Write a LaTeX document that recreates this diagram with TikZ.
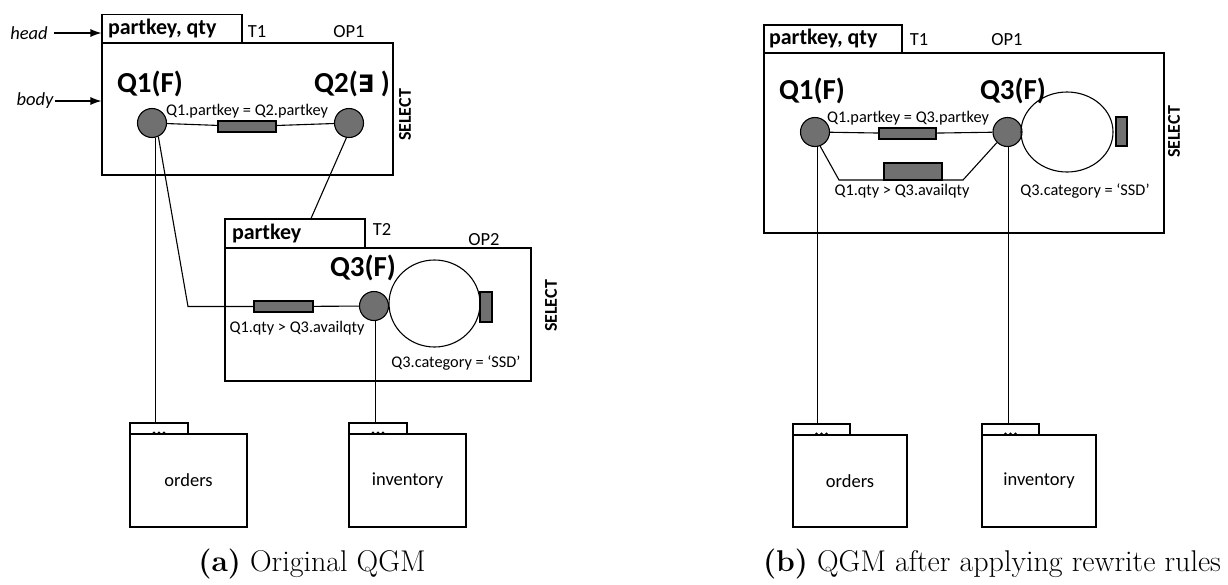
\documentclass[tikz,border=0pt]{standalone}
\usepackage{fontspec}
\newfontfamily\calib{Carlito}
\newfontfamily\dejavu{DejaVu Sans}
\usepackage{tikz}
\usetikzlibrary{positioning}
\usetikzlibrary{shapes.geometric}
\usetikzlibrary{arrows.meta}
\definecolor{qgray}{RGB}{112,112,112}

\begin{document}
\begin{tikzpicture}[x=1pt,y=-1pt,line width=1.1pt,
	qun/.style={circle,draw,fill=qgray,minimum size=29pt,inner sep=0pt},
	pred/.style={rectangle,draw,fill=qgray,inner sep=0pt},
	frame/.style={rectangle,draw,inner sep=0pt},
	tname/.style={font=\calib\bfseries\fontsize{22}{22}\selectfont,inner sep=0pt,anchor=west},
	boxname/.style={font=\calib\fontsize{18.5}{18.5}\selectfont,inner sep=0pt},
	qname/.style={font=\calib\bfseries\fontsize{29}{29}\selectfont,inner sep=0pt},
	cond/.style={font=\calib\fontsize{16.3}{16.3}\selectfont,inner sep=0pt},
	opname/.style={font=\calib\bfseries\fontsize{18}{18}\selectfont,inner sep=0pt,rotate=90},
	capt/.style={font=\fontsize{30}{30}\selectfont,inner sep=0pt,anchor=base},
	feed/.style={-{Latex[length=11pt,width=8pt]}}]
	\useasboundingbox (0,0) rectangle (1228,584);

	% (a) original QGM
	\node[frame,minimum width=140pt,minimum height=29pt] (t1a) at (172,29) {};
	\node[tname] (t1acols) at ([xshift=6pt]t1a.west) {partkey, qty};
	\node[boxname] (t1alabel) at (257,32) {T1};
	\node[boxname] (op1alabel) at (349,32) {OP1};
	\node[frame,minimum width=291pt,minimum height=132pt] (op1a) at (247.5,109) {};
	\node[opname] (sel1a) at (405,115) {SELECT};
	\node[boxname,font=\calib\itshape\fontsize{18.5}{18.5}\selectfont,inner xsep=6pt] (head) at (29,33) {head};
	\node[boxname,font=\calib\itshape\fontsize{18.5}{18.5}\selectfont,inner xsep=1pt] (body) at (35,101) {body};
	\draw[feed] (head) -- (head -| t1a.west);
	\draw[feed] (body) -- (body -| op1a.west);

	\node[qname] (q1aname) at (150,84) {Q1(F)};
	\node[qname] (q2aname) at (352,84) {Q2({\dejavu\fontsize{24}{24}\selectfont ∃} )};
	\node[qun] (q1a) at (152,123) {};
	\node[qun] (q2a) at (349,123) {};
	\node[pred,minimum width=58pt,minimum height=11pt] (p12a) at (247,126.5) {};
	\node[cond] (c12a) at (247,111) {Q1.partkey = Q2.partkey};
	\draw (q1a) -- (p12a) -- (q2a);

	\node[frame,minimum width=140pt,minimum height=29pt] (t2a) at (295,233.5) {};
	\node[tname] (t2acols) at ([xshift=7pt]t2a.west) {partkey};
	\node[boxname] (t2alabel) at (382,229) {T2};
	\node[boxname] (op2alabel) at (484,240) {OP2};
	\node[frame,minimum width=306pt,minimum height=133pt] (op2a) at (378,314.5) {};
	\node[opname] (sel2a) at (551,306) {SELECT};
	\draw (q2a.-100) -- ([xshift=16pt]t2a.north);

	\node[qname] (q3aname) at (363,268) {Q3(F)};
	\node[qun] (q3a) at (374,306) {};
	\node[ellipse,draw,minimum width=91pt,minimum height=87pt,inner sep=0pt] (loopa) at (434.5,303.5) {};
	\node[pred,minimum width=12pt,minimum height=30pt] (p33a) at (486,307) {};
	\node[cond] (c33a) at (456,363) {Q3.category = ‘SSD’};
	\node[pred,minimum width=59pt,minimum height=11pt] (p13a) at (283.5,306.5) {};
	\node[cond] (c13a) at (297,328) {Q1.qty > Q3.availqty};
	\coordinate (benda) at (188,306.5);
	\draw (q1a.-65) -- (benda) -- (p13a) -- (q3a);

	\node[frame,minimum width=58pt,minimum height=11pt] (ordtaba) at (159,428.5) {};
	\node[frame,minimum width=117pt,minimum height=93pt] (orda) at (188.5,480.5) {};
	\node[boxname] (ordlabela) at (orda) {orders};
	\node[frame,minimum width=58pt,minimum height=11pt] (invtaba) at (378,428.5) {};
	\node[frame,minimum width=117pt,minimum height=93pt] (inva) at (407.5,480.5) {};
	\node[boxname] (invlabela) at (inva) {inventory};
	\foreach \t in {ordtaba,invtaba}
		\foreach \d in {-5,0,5}
			\fill ([xshift=\d pt,yshift=1.5pt]\t.south) circle (1.6pt);
	\draw (q1a.-75) -- (q1a.-75 |- ordtaba.north);
	\draw (q3a.-85) -- (q3a.-85 |- invtaba.north);

	\node[capt] (capa) at (312,571) {\textbf{(a)} Original QGM};

	% (b) after rewrite
	\node[frame,minimum width=138pt,minimum height=28pt] (t1b) at (833,39) {};
	\node[tname] (t1bcols) at ([xshift=5pt]t1b.west) {partkey, qty};
	\node[boxname] (t1blabel) at (919,40) {T1};
	\node[boxname] (op1blabel) at (1007,40) {OP1};
	\node[frame,minimum width=400pt,minimum height=180pt] (op1b) at (964,143) {};
	\node[opname] (sel1b) at (1174,132) {SELECT};

	\node[qname] (q1bname) at (812,91) {Q1(F)};
	\node[qname] (q3bname) at (1013,91) {Q3(F)};
	\node[qun] (q1b) at (815,132) {};
	\node[qun] (q3b) at (1007.5,132) {};
	\node[pred,minimum width=57pt,minimum height=11pt] (p13b) at (907.5,133.5) {};
	\node[cond] (c13b) at (908,118) {Q1.partkey = Q3.partkey};
	\draw (q1b) -- (p13b) -- (q3b);
	\coordinate (bendlb) at (839,180);
	\coordinate (bendrb) at (963,180);
	\draw (q1b.-70) -- (bendlb) -- (bendrb) -- (q3b.-135);
	\node[pred,minimum width=58pt,minimum height=17pt] (q13b) at (913,171.5) {};
	\node[cond] (cq13b) at (902,191) {Q1.qty > Q3.availqty};
	\node[ellipse,draw,minimum width=92pt,minimum height=80pt,inner sep=0pt] (loopb) at (1067,132) {};
	\node[pred,minimum width=11pt,minimum height=29pt] (p33b) at (1121.5,131.5) {};
	\node[cond] (c33b) at (1085,191) {Q3.category = ‘SSD’};

	\node[frame,minimum width=57pt,minimum height=11pt] (ordtabb) at (821.5,429.5) {};
	\node[frame,minimum width=114pt,minimum height=92pt] (ordb) at (850,481) {};
	\node[boxname] (ordlabelb) at (ordb) {orders};
	\node[frame,minimum width=57pt,minimum height=11pt] (invtabb) at (1010.5,429.5) {};
	\node[frame,minimum width=114pt,minimum height=92pt] (invb) at (1039,481) {};
	\node[boxname] (invlabelb) at (invb) {inventory};
	\foreach \t in {ordtabb,invtabb}
		\foreach \d in {-5,0,5}
			\fill ([xshift=\d pt,yshift=1.5pt]\t.south) circle (1.6pt);
	\draw (q1b.-80) -- (q1b.-80 |- ordtabb.north);
	\draw (q3b.-85) -- (q3b.-85 |- invtabb.north);

	\node[capt] (capb) at (992,571) {\textbf{(b)} QGM after applying rewrite rules};
\end{tikzpicture}
\end{document}
